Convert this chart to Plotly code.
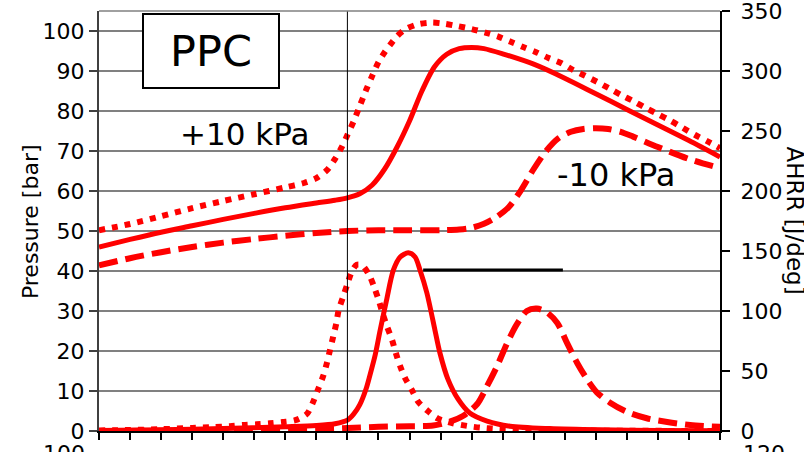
import plotly.graph_objects as go

# ---------------- data (crank angle [deg], pressure [bar], AHRR [J/deg]) ----------------
solid_p_cad = [-40, -35, -30, -25, -20, -15, -10, -5, -2, 0, 2, 4, 6, 8, 10, 12, 14, 16, 18, 20,
               22, 25, 30, 35, 40, 45, 50, 55, 60]
solid_p = [46, 47.9, 49.7, 51.3, 52.9, 54.4, 55.8, 57.0, 57.7, 58.3, 59.3, 61.5, 65.5, 71, 77.5, 85,
           91, 94.2, 95.6, 95.9, 95.6, 94.3, 91.7, 88.2, 84.3, 80.4, 76.5, 72.6, 68.5]

dot_p_cad = [-40, -35, -30, -25, -20, -15, -10, -7, -5, -3.3, -2, -1, 0, 1, 2, 3, 4, 5, 6, 7, 8,
             9.3, 11.4, 13.6, 15.7, 17.8, 20, 22.2, 24.3, 26.3, 28.3, 30.4, 32.3, 34.4, 36.3, 38.3,
             40.2, 42.1, 44.1, 46, 48, 50, 52, 54, 56, 58, 60]
dot_p = [50.2, 51.75, 53.7, 55.7, 57.5, 59.2, 60.9, 62, 63.2, 65.2, 68, 70.7, 74, 77.4, 81.3, 85.2,
         88.8, 92.2, 94.7, 96.8, 98.7, 100.4, 101.7, 102.1, 101.8, 101.2, 100.5, 99.6, 98.6, 97.3,
         96, 94.7, 93.3, 92, 90.3, 88.8, 87.3, 85.7, 84, 82.5, 80.8, 79.2, 77.6, 75.8, 74, 72.4, 70.7]

dash_p_cad = [-40, -35, -30, -25, -20, -15, -10, -5, 0, 5, 10, 15, 18, 20, 22, 24, 26, 28, 30, 32,
              34, 36, 38, 40, 42, 44, 46, 50, 55, 60]
dash_p = [41.4, 43.2, 44.7, 46, 47.1, 48, 48.8, 49.5, 50, 50.2, 50.2, 50.2, 50.4, 50.8, 51.8, 53.5,
          56, 60.3, 65.5, 70, 73.2, 74.8, 75.5, 75.7, 75.5, 74.8, 73.6, 71, 68, 65.7]

solid_hr_cad = [-40, -30, -20, -10, -5, -2, 0, 1, 2, 3, 3.6, 4.5, 5.2, 6.3, 7.4, 8.5, 9.8, 10.9,
                11.7, 12.8, 14.1, 14.9, 16.2, 17.8, 19.7, 22.5, 26.2, 32.6, 40.7, 50, 60]
solid_hr = [0.5, 1, 2, 3.5, 4.5, 6, 9, 14, 22, 35, 46, 64, 82, 109, 134, 145, 148.5, 145, 134, 115,
            84, 65, 43, 26.7, 15, 8.3, 4, 2, 1, 0.5, 0.3]

dot_hr_cad = [-40, -35, -30, -25, -21.6, -18.9, -16.8, -14.6, -12.5, -10.4, -8.4, -6.5, -5.5, -4.7,
              -3.9, -3.3, -2.8, -2.3, -1.8, -1.4, -0.7, 0, 0.7, 1.5, 2.4, 3.6, 4.4, 5.1, 5.7, 6.4,
              7.2, 7.8, 8.5, 9.3, 10.4, 11.4, 13, 14.6, 17, 19.3, 21.4, 23.4, 27.8, 34.2, 45, 60]
dot_hr = [0.5, 0.8, 1.5, 2.5, 3.3, 4, 5, 5.6, 6.4, 7.5, 9, 14.4, 24.4, 35, 45.8, 56.7, 67.5, 78.3,
          89.4, 100.8, 111.7, 122.5, 132.8, 138.5, 138, 129, 118.6, 108, 97.5, 86.8, 75.8, 65, 54,
          44, 34, 24.4, 16.4, 10.3, 6.4, 4.2, 2.8, 2, 1, 0.5, 0.2, 0]

dash_hr_cad = [-40, -20, -5, 0, 5, 10, 13.8, 16.5, 18.6, 20.9, 22.5, 24.1, 25.7, 27.3, 28.9, 30.5,
               32.1, 33.8, 35.4, 37, 38.6, 40.2, 42.3, 45, 48.2, 51.5, 55.2, 60]
dash_hr = [0, 0.5, 1.5, 2.5, 3.5, 4, 4.5, 7.8, 12.5, 22.5, 37.5, 54, 73, 89, 100, 102, 99, 90, 73,
           56.7, 43, 32, 23.6, 16, 10.6, 7.5, 5, 3.5]

label_ppc = "PPC"
label_plus = "+10 kPa"
label_minus = "-10 kPa"
title_left = "Pressure [bar]"
title_right = "AHRR [J/deg]"
next_panel_left = "100"
next_panel_right = "120"

# ---------------- figure ----------------
FONT = "DejaVu Sans, Liberation Sans, Arial, sans-serif"
RED = "#FF0000"
DOT = "6px,7px"
DASH = "19px,8px"

fig = go.Figure()


def add(x, y, dash, width, yaxis):
    fig.add_trace(go.Scatter(
        x=x, y=y, mode="lines", yaxis=yaxis, showlegend=False, hoverinfo="skip",
        line=dict(color=RED, width=width, dash=dash, shape="spline", smoothing=0.8)))


add(dash_p_cad, dash_p, DASH, 6, "y")
add(solid_p_cad, solid_p, "solid", 5, "y")
add(dot_p_cad, dot_p, DOT, 6, "y")
add(dash_hr_cad, dash_hr, DASH, 6, "y2")
add(solid_hr_cad, solid_hr, "solid", 5, "y2")
add(dot_hr_cad, dot_hr, DOT, 6, "y2")

fig.update_layout(
    width=804, height=452,
    margin=dict(l=99, r=84, t=11, b=21, autoexpand=False),
    paper_bgcolor="white", plot_bgcolor="white",
    showlegend=False,
    font=dict(family=FONT, size=22, color="black"),
    xaxis=dict(range=[-40, 60], tick0=-40, dtick=5, ticks="outside", ticklen=7, tickwidth=1.5,
               tickcolor="black", showticklabels=False, showgrid=False, zeroline=False,
               showline=True, linecolor="black", linewidth=2),
    yaxis=dict(range=[0, 105], tick0=0, dtick=10, ticks="outside", ticklen=8, tickwidth=1.5,
               tickcolor="#404040", showgrid=True, gridcolor="#808080", gridwidth=1.5,
               zeroline=False, showline=True, linecolor="#404040", linewidth=2,
               tickfont=dict(size=22), ticklabeloverflow="allow"),
    yaxis2=dict(range=[0, 350], tick0=0, dtick=50, overlaying="y", side="right",
                ticks="outside", ticklen=8, tickwidth=1.5, tickcolor="black",
                showgrid=False, zeroline=False, showline=True, linecolor="black", linewidth=2,
                tickfont=dict(size=22), ticklabelstandoff=6, ticklabeloverflow="allow"),
)

# decorations
fig.add_shape(type="line", xref="x", yref="paper", x0=0, x1=0, y0=0, y1=1,
              line=dict(color="black", width=1))
fig.add_shape(type="line", xref="paper", yref="paper", x0=0, x1=1, y0=1, y1=1,
              line=dict(color="#808080", width=1.5))
fig.add_shape(type="line", xref="x", yref="y", x0=12.2, x1=34.7, y0=40.25, y1=40.25,
              line=dict(color="black", width=3))

fig.add_annotation(x=-21.96, y=95, xref="x", yref="y", text=label_ppc, showarrow=False,
                   font=dict(size=43), width=134, height=72, borderpad=0,
                   bordercolor="black", borderwidth=2, bgcolor="white")
fig.add_annotation(x=-16.5, y=74.25, xref="x", yref="y", text=label_plus, showarrow=False,
                   font=dict(size=31))
fig.add_annotation(x=43.3, y=64, xref="x", yref="y", text=label_minus, showarrow=False,
                   font=dict(size=32))
fig.add_annotation(x=-0.111, y=0.4976, xref="paper", yref="paper", text=title_left,
                   showarrow=False, textangle=-90, xanchor="center", yanchor="middle",
                   font=dict(size=22))
fig.add_annotation(x=1.1208, y=0.501, xref="paper", yref="paper", text=title_right,
                   showarrow=False, textangle=90, xanchor="center", yanchor="middle",
                   font=dict(size=23))
fig.add_annotation(x=-0.0193, y=-0.0536, xref="paper", yref="paper", text=next_panel_left,
                   showarrow=False, xanchor="right", yanchor="middle", font=dict(size=22))
fig.add_annotation(x=1.0338, y=-0.0536, xref="paper", yref="paper", text=next_panel_right,
                   showarrow=False, xanchor="left", yanchor="middle", font=dict(size=22))

# remove the default 8px page margin so the 804x452 figure fills the window exactly
fig.write_html("out.html", config={"displayModeBar": False},
               post_script="document.body.style.margin='0';")
